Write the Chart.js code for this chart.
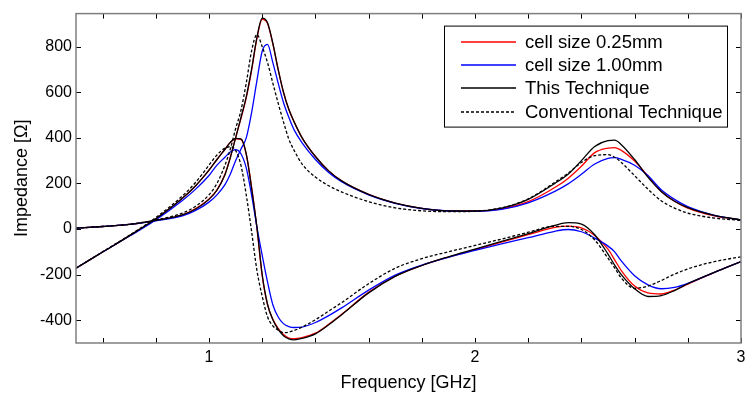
<!DOCTYPE html>
<html>
<head>
<meta charset="utf-8">
<script src="https://cdn.jsdelivr.net/npm/chart.js@4/dist/chart.umd.min.js"></script>
<style>
  html, body { margin: 0; padding: 0; background: #fff; }
  canvas { display: block; }
</style>
</head>
<body>
<canvas id="c" width="752" height="394"></canvas>
<script>
// ---- data ----
const freq = [0.5,0.6,0.7,0.8,0.9,0.95,1.0,1.03,1.06,1.08,1.1,1.12,1.14,1.16,1.18,1.2,1.22,1.24,1.26,1.28,1.3,1.32,1.35,1.4,1.45,1.5,1.6,1.7,1.8,1.9,2.0,2.1,2.2,2.3,2.35,2.4,2.45,2.5,2.525,2.55,2.6,2.65,2.7,2.75,2.8,2.9,3.0];

const fineRe   = [4,11,20,38,62,90,132,172,240,315,400,485,575,695,835,920,902,812,700,600,525,470,400,318,255,210,152,114,91,80,79,88,120,182,222,275,335,355,357,345,298,232,165,122,92,58,40];
const fineIm   = [-172,-101,-30,45,135,190,258,305,350,380,396,393,328,185,5,-205,-332,-396,-436,-463,-478,-481,-476,-457,-418,-373,-278,-207,-160,-123,-90,-57,-25,7,13,5,-28,-88,-135,-182,-250,-280,-285,-268,-242,-190,-143];

const coarseRe = [4,11,20,36,58,82,118,150,195,240,300,350,400,510,650,780,810,730,640,555,490,435,378,305,248,206,150,113,90,79,77,86,115,165,198,240,285,310,313,306,280,235,172,130,98,60,40];
const coarseIm = [-172,-101,-32,40,125,175,235,280,315,338,348,330,268,150,10,-115,-232,-332,-386,-415,-428,-432,-430,-410,-380,-345,-268,-202,-158,-124,-94,-65,-38,-10,-2,-12,-40,-75,-100,-140,-205,-245,-262,-256,-238,-190,-143];

const thisRe   = [4,11,20,38,62,88,130,170,238,312,400,488,580,700,840,925,905,815,700,600,525,470,400,318,255,210,152,114,91,80,79,92,130,200,240,300,362,388,390,370,305,228,165,122,94,60,40];
const thisIm   = [-172,-101,-30,45,135,190,258,305,350,380,398,395,330,180,10,-200,-330,-398,-440,-468,-482,-486,-480,-460,-420,-375,-280,-208,-160,-122,-88,-54,-20,16,28,22,-25,-110,-158,-200,-262,-296,-292,-270,-240,-190,-143];

const convRe   = [4,11,21,40,70,100,150,200,280,350,440,520,640,780,853,800,730,640,552,470,395,345,285,228,190,162,120,93,80,76,78,93,132,205,245,292,322,326,315,292,234,175,124,92,70,48,38];
const convIm   = [-172,-100,-28,50,145,205,280,325,355,361,345,280,150,-10,-180,-295,-385,-425,-443,-455,-452,-445,-430,-398,-360,-322,-240,-172,-130,-100,-72,-44,-14,12,12,-2,-48,-128,-170,-215,-260,-250,-226,-198,-175,-143,-122];

const seriesNames = ['cell size 0.25mm','cell size 1.00mm','This Technique','Conventional Technique'];
const xTickValues = [0.6,0.8,1,1.2,1.4,1.6,1.8,2,2.2,2.4,2.6,2.8,3];
const yTickValues = [-400,-200,0,200,400,600,800];
const xTitle = 'Frequency [GHz]';
const yTitle = 'Impedance [\u03A9]';

// ---- build ----
const pts = arr => freq.map((f, i) => ({ x: f, y: arr[i] }));
const styles = [
  { color: '#ff0000', dash: [], order: 4 },
  { color: '#0000ff', dash: [], order: 3 },
  { color: '#000000', dash: [], order: 2 },
  { color: '#000000', dash: [3, 2], order: 1 }
];
const pairs = [[fineRe, fineIm], [coarseRe, coarseIm], [thisRe, thisIm], [convRe, convIm]];
const datasets = [];
pairs.forEach((p, s) => {
  p.forEach((arr, k) => {
    datasets.push({
      label: seriesNames[s] + (k === 0 ? ' (Re)' : ' (Im)'),
      data: pts(arr),
      borderColor: styles[s].color,
      borderDash: styles[s].dash,
      borderWidth: 1.3,
      pointRadius: 0,
      fill: false,
      cubicInterpolationMode: 'monotone',
      order: styles[s].order
    });
  });
});

const FONT = "'Liberation Sans', Arial, Helvetica, sans-serif";
Chart.defaults.font.family = FONT;
Chart.defaults.color = '#000';

const framePlugin = {
  id: 'frame',
  afterDatasetsDraw(chart) {
    const { ctx, chartArea: a, scales: { x, y } } = chart;
    ctx.save();
    ctx.strokeStyle = '#000';
    ctx.lineWidth = 1;
    ctx.beginPath();
    x.ticks.forEach(t => {
      const px = Math.round(x.getPixelForValue(t.value)) + 0.5;
      ctx.moveTo(px, a.bottom); ctx.lineTo(px, a.bottom - 5);
      ctx.moveTo(px, a.top); ctx.lineTo(px, a.top + 5);
    });
    y.ticks.forEach(t => {
      const py = Math.round(y.getPixelForValue(t.value)) + 0.5;
      ctx.moveTo(a.left, py); ctx.lineTo(a.left + 5, py);
      ctx.moveTo(a.right, py); ctx.lineTo(a.right - 5, py);
    });
    ctx.stroke();
    ctx.strokeStyle = '#7f7f7f';
    ctx.lineWidth = 1.5;
    ctx.strokeRect(a.left, a.top, a.right - a.left, a.bottom - a.top);
    ctx.restore();
  },
  afterDraw(chart) {
    const { ctx, chartArea: a } = chart;
    const bx = a.right - 297, by = a.top + 12, bw = 283, bh = 101;
    ctx.save();
    ctx.fillStyle = '#fff';
    ctx.fillRect(bx, by, bw, bh);
    ctx.strokeStyle = '#000';
    ctx.lineWidth = 1;
    ctx.strokeRect(bx + 0.5, by + 0.5, bw, bh);
    ctx.font = '18.5px ' + FONT;
    ctx.textBaseline = 'middle';
    seriesNames.forEach((name, i) => {
      const yy = Math.round(by + 16 + i * 23.4);
      ctx.save();
      ctx.beginPath();
      ctx.strokeStyle = styles[i].color;
      ctx.setLineDash(styles[i].dash);
      ctx.lineWidth = 1.3;
      ctx.moveTo(bx + 17, yy);
      ctx.lineTo(bx + 72, yy);
      ctx.stroke();
      ctx.restore();
      ctx.fillStyle = '#000';
      ctx.fillText(name, bx + 81, yy + 1);
    });
    ctx.restore();
  }
};

new Chart(document.getElementById('c'), {
  type: 'line',
  data: { datasets },
  options: {
    responsive: false,
    devicePixelRatio: 1,
    animation: false,
    layout: { padding: { left: 0, right: 11, top: 10, bottom: 0 } },
    plugins: { legend: { display: false }, tooltip: { enabled: false } },
    elements: { line: { tension: 0 } },
    scales: {
      x: {
        type: 'linear',
        min: 0.5, max: 3,
        afterBuildTicks: s => { s.ticks = xTickValues.map(v => ({ value: v })); },
        afterFit: s => { s.height = 51; },
        grid: { display: false, drawTicks: false },
        border: { display: false },
        ticks: {
          autoSkip: false, maxRotation: 0, padding: 5,
          font: { size: 16 },
          callback: v => (Math.abs(v - Math.round(v)) < 1e-9 ? String(Math.round(v)) : '')
        },
        title: { display: true, text: xTitle, font: { size: 18 }, padding: { top: 0, bottom: 0 } }
      },
      y: {
        type: 'linear',
        min: -500, max: 945,
        afterBuildTicks: s => { s.ticks = yTickValues.map(v => ({ value: v })); },
        afterFit: s => { s.width = 76; },
        grid: { display: false, drawTicks: false },
        border: { display: false },
        ticks: { autoSkip: false, padding: 4, font: { size: 16 } },
        title: { display: true, text: yTitle, font: { size: 18 }, padding: { top: 11, bottom: 0 } }
      }
    }
  },
  plugins: [framePlugin]
});
</script>
</body>
</html>
